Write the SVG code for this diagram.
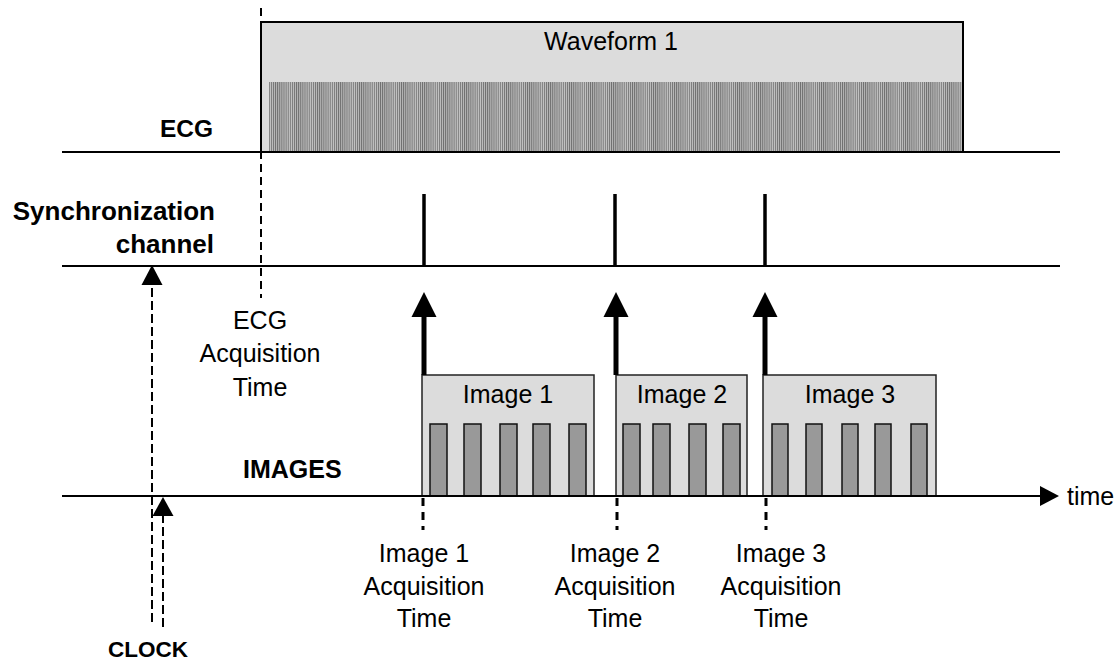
<svg xmlns="http://www.w3.org/2000/svg" width="1120" height="664" viewBox="0 0 1120 664">
<defs>
<pattern id="hatch" x="0" y="0" width="2.1" height="10" patternUnits="userSpaceOnUse">
<rect width="2.1" height="10" fill="#c4c4c4"/>
<rect width="1" height="10" fill="#6e6e6e"/>
</pattern>
</defs>
<style>
text{font-family:"Liberation Sans",Arial,sans-serif;font-size:25px;fill:#000}
.b{font-weight:bold}
.m{text-anchor:middle}
.e{text-anchor:end}
.axis{stroke:#000;stroke-width:2;fill:none}
.box{fill:#dcdcdc;stroke:#222;stroke-width:1.5}
.bar{fill:#999;stroke:#111;stroke-width:1.5}
.pulse{stroke:#000;stroke-width:3.5}
.shaft{stroke:#000;stroke-width:5}
.dash{stroke:#000;stroke-width:2;stroke-dasharray:9 4;fill:none}
.dash3{stroke:#000;stroke-width:3;stroke-dasharray:8 6;fill:none}
.head{fill:#000}
</style>

<g id="labels">
<text class="b e" x="213" y="137" style="font-size:24.5px">ECG</text>
<text class="b e" x="215" y="220" style="font-size:26px">Synchronization</text>
<text class="b e" x="214" y="253" style="font-size:26px">channel</text>
<text class="b" x="243" y="478">IMAGES</text>
<text class="b m" x="148" y="657" style="font-size:22.5px">CLOCK</text>
<text x="1067" y="505">time</text>
</g>

<g id="waveform1">
<rect class="box" x="261" y="22" width="702" height="130" style="stroke:#000;stroke-width:2"/>
<rect x="269" y="82" width="693" height="70" fill="url(#hatch)"/>
<text class="m" x="611" y="50">Waveform 1</text>
</g>

<g id="image1">
<rect class="box" x="422" y="375" width="172" height="121"/>
<text class="m" x="508" y="403">Image 1</text>
<rect class="bar" x="430" y="424" width="17" height="72"/>
<rect class="bar" x="464" y="424" width="17" height="72"/>
<rect class="bar" x="500" y="424" width="17" height="72"/>
<rect class="bar" x="533" y="424" width="17" height="72"/>
<rect class="bar" x="569" y="424" width="17" height="72"/>
</g>

<g id="image2">
<rect class="box" x="616" y="375" width="131" height="121"/>
<text class="m" x="682" y="403">Image 2</text>
<rect class="bar" x="623" y="424" width="17" height="72"/>
<rect class="bar" x="653" y="424" width="17" height="72"/>
<rect class="bar" x="689" y="424" width="17" height="72"/>
<rect class="bar" x="723" y="424" width="17" height="72"/>
</g>

<g id="image3">
<rect class="box" x="763" y="375" width="173" height="121"/>
<text class="m" x="850" y="403">Image 3</text>
<rect class="bar" x="772" y="424" width="16" height="72"/>
<rect class="bar" x="806" y="424" width="16" height="72"/>
<rect class="bar" x="842" y="424" width="16" height="72"/>
<rect class="bar" x="875" y="424" width="16" height="72"/>
<rect class="bar" x="911" y="424" width="16" height="72"/>
</g>

<g id="ecg-acq">
<text class="m" x="260" y="329">ECG</text>
<text class="m" x="260" y="362">Acquisition</text>
<text class="m" x="260" y="396">Time</text>
</g>
<g id="img1-acq">
<text class="m" x="424" y="562">Image 1</text>
<text class="m" x="424" y="595">Acquisition</text>
<text class="m" x="424" y="627">Time</text>
</g>
<g id="img2-acq">
<text class="m" x="615" y="562">Image 2</text>
<text class="m" x="615" y="595">Acquisition</text>
<text class="m" x="615" y="627">Time</text>
</g>
<g id="img3-acq">
<text class="m" x="781" y="562">Image 3</text>
<text class="m" x="781" y="595">Acquisition</text>
<text class="m" x="781" y="627">Time</text>
</g>

<g id="connectors">
<line class="axis" x1="62" y1="152" x2="1060" y2="152"/>
<line class="axis" x1="62" y1="266" x2="1060" y2="266"/>
<line class="axis" x1="62" y1="496" x2="1041" y2="496"/>
<polygon class="head" points="1040,486 1059,496 1040,506"/>
<line x1="261" y1="8" x2="261" y2="298" stroke="#000" stroke-width="2" stroke-dasharray="8 5"/>
<line class="pulse" x1="424" y1="194" x2="424" y2="266"/>
<line class="pulse" x1="615" y1="194" x2="615" y2="266"/>
<line class="pulse" x1="765" y1="194" x2="765" y2="266"/>
<line class="shaft" x1="424" y1="375" x2="424" y2="314"/>
<polygon class="head" points="424,292 436.5,317 411.5,317"/>
<line class="shaft" x1="616" y1="375" x2="616" y2="314"/>
<polygon class="head" points="616,292 628.5,317 603.5,317"/>
<line class="shaft" x1="765" y1="375" x2="765" y2="314"/>
<polygon class="head" points="765,292 777.5,317 752.5,317"/>
<line class="dash3" x1="423" y1="498" x2="423" y2="530"/>
<line class="dash3" x1="617" y1="498" x2="617" y2="530"/>
<line class="dash3" x1="766" y1="498" x2="766" y2="530"/>
<line class="dash" x1="152" y1="622" x2="152" y2="284"/>
<polygon class="head" points="152,265 162.5,285 141.5,285"/>
<line class="dash" x1="163" y1="627" x2="163" y2="515"/>
<polygon class="head" points="163,497 173.5,516 152.5,516"/>
</g>
</svg>
